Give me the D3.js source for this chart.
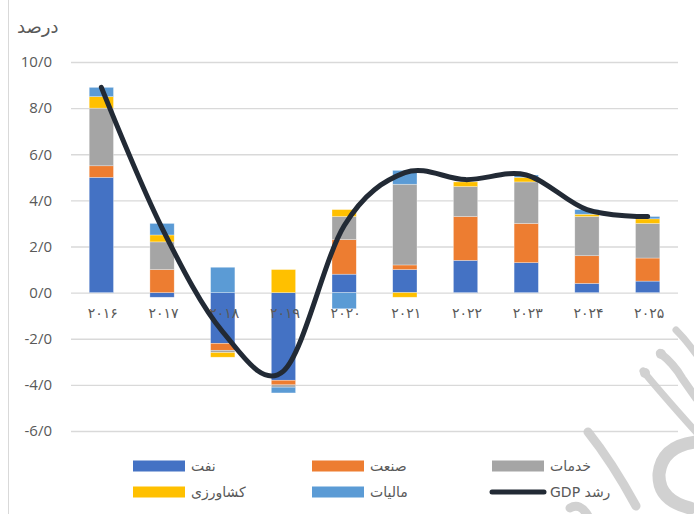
<!DOCTYPE html>
<html>
<head>
<meta charset="utf-8">
<script src="https://cdn.jsdelivr.net/npm/d3@7"></script>
<style>
  body { margin: 0; background: #fff; }
  svg { display: block; font-family: "DejaVu Sans", "Noto Sans", sans-serif; }
</style>
</head>
<body>
<svg id="chart" width="694" height="514"></svg>
<script>
// chart values (percent contribution to GDP growth)
const years = ["۲۰۱۶", "۲۰۱۷", "۲۰۱۸", "۲۰۱۹", "۲۰۲۰", "۲۰۲۱", "۲۰۲۲", "۲۰۲۳", "۲۰۲۴", "۲۰۲۵"];
const oil         = [5.0, -0.2, -2.2, -3.8, 0.8, 1.0, 1.4, 1.3, 0.4, 0.5];
const industry    = [0.5, 1.0, -0.3, -0.2, 1.5, 0.2, 1.9, 1.7, 1.2, 1.0];
const services    = [2.5, 1.2, -0.1, -0.1, 1.0, 3.5, 1.3, 1.8, 1.7, 1.5];
const agriculture = [0.5, 0.3, -0.2, 1.0, 0.3, -0.2, 0.2, 0.2, 0.1, 0.2];
const taxes       = [0.4, 0.5, 1.1, -0.25, -0.7, 0.6, 0.0, 0.1, 0.2, 0.1];
const gdp         = [8.9, 2.8, -1.7, -3.4, 2.9, 5.2, 4.9, 5.1, 3.6, 3.3];
const yTicks = [-6, -4, -2, 0, 2, 4, 6, 8, 10];

const seriesNames = ["نفت", "صنعت", "خدمات", "کشاورزی", "مالیات"];
const seriesKeys = ["oil", "industry", "services", "agriculture", "taxes"];
const colors = ["#4472c4", "#ed7d31", "#a5a5a5", "#ffc000", "#5b9bd5"];
const lineColor = "#222a35";
const textColor = "#595959";

const svg = d3.select("#chart");

// frame edge on the left
svg.append("line")
  .attr("x1", 8.5).attr("x2", 8.5).attr("y1", 0).attr("y2", 514)
  .attr("stroke", "#d9d9d9");

const x = d3.scaleBand()
  .domain(years)
  .range([71, 678])
  .paddingInner(0.6)
  .paddingOuter(0.3);

const y = d3.scaleLinear()
  .domain([-6, 10])
  .range([431, 62]);

// y axis + gridlines
const yAxis = d3.axisLeft(y)
  .tickValues(yTicks)
  .tickSizeInner(-(678 - 71))
  .tickSizeOuter(0)
  .tickPadding(19)
  .tickFormat(d => d + "/0");

const gy = svg.append("g")
  .attr("transform", "translate(71,0)")
  .call(yAxis);
gy.select(".domain").remove();
gy.selectAll(".tick line").attr("stroke", "#d9d9d9").attr("stroke-width", 1.3);
gy.selectAll(".tick text")
  .attr("fill", textColor)
  .style("font-family", "'Open Sans', 'Noto Sans', sans-serif")
  .style("font-size", "15px");

// axis title
svg.append("text")
  .attr("x", 17).attr("y", 33)
  .attr("fill", textColor)
  .style("font-size", "18px")
  .text("درصد");

// stacked bars
const rows = years.map((yr, i) => ({
  year: yr,
  oil: oil[i],
  industry: industry[i],
  services: services[i],
  agriculture: agriculture[i],
  taxes: taxes[i]
}));

const stacked = d3.stack()
  .keys(seriesKeys)
  .offset(d3.stackOffsetDiverging)(rows);

svg.append("g")
  .selectAll("g")
  .data(stacked)
  .join("g")
    .attr("fill", (d, i) => colors[i])
  .selectAll("rect")
  .data(d => d)
  .join("rect")
    .attr("x", d => x(d.data.year))
    .attr("width", x.bandwidth())
    .attr("y", d => y(Math.max(d[0], d[1])))
    .attr("height", d => Math.abs(y(d[0]) - y(d[1])))
    .attr("stroke", "#fff")
    .attr("stroke-opacity", 0.5)
    .attr("stroke-width", 0.6);

// category labels under the zero line
svg.append("g")
  .selectAll("text")
  .data(years)
  .join("text")
    .attr("x", d => x(d) + x.bandwidth() / 2 + 1.5)
    .attr("y", 318)
    .attr("text-anchor", "middle")
    .attr("fill", textColor)
    .style("font-size", "14px")
    .style("letter-spacing", "3px")
    .text(d => d);

// GDP growth line (smoothed like excel)
const line = d3.line()
  .x((d, i) => x(years[i]) + x.bandwidth() / 2)
  .y(d => y(d))
  .curve(d3.curveCardinal.tension(0));

svg.append("path")
  .datum(gdp)
  .attr("d", line)
  .attr("fill", "none")
  .attr("stroke", lineColor)
  .attr("stroke-width", 5)
  .attr("stroke-linecap", "round")
  .attr("stroke-linejoin", "round");

// legend
const legendItems = [
  { name: seriesNames[0], color: colors[0], x: 133, y: 466 },
  { name: seriesNames[1], color: colors[1], x: 312, y: 466 },
  { name: seriesNames[2], color: colors[2], x: 492, y: 466 },
  { name: seriesNames[3], color: colors[3], x: 133, y: 492 },
  { name: seriesNames[4], color: colors[4], x: 312, y: 492 },
  { name: "رشد GDP", color: lineColor, x: 492, y: 492, isLine: true }
];

const lg = svg.append("g").selectAll("g")
  .data(legendItems)
  .join("g")
    .attr("transform", d => `translate(${d.x},${d.y})`);

lg.filter(d => !d.isLine).append("rect")
  .attr("x", 0).attr("y", -5.5)
  .attr("width", 52).attr("height", 11)
  .attr("fill", d => d.color);

lg.filter(d => d.isLine).append("line")
  .attr("x1", 0).attr("x2", 52).attr("y1", 0).attr("y2", 0)
  .attr("stroke", d => d.color)
  .attr("stroke-width", 5)
  .attr("stroke-linecap", "round");

lg.append("text")
  .attr("x", 58).attr("y", 5)
  .attr("direction", "rtl")
  .attr("text-anchor", "end")
  .attr("fill", textColor)
  .style("font-size", "14px")
  .text(d => d.name);

// faint watermark strokes in the corner
const wm = svg.append("g")
  .attr("fill", "none")
  .attr("stroke", "#cdcdcd")
  .attr("stroke-linecap", "round")
  .attr("opacity", 0.9);
wm.append("path").attr("d", "M676,330 Q686,340 696,354").attr("stroke-width", 7);
wm.append("path").attr("d", "M660,353 Q674,364 682,378 L696,398").attr("stroke-width", 8);
wm.append("path").attr("d", "M643,371 Q662,394 696,432").attr("stroke-width", 7);
wm.append("path").attr("d", "M588,432 Q612,462 636,506").attr("stroke-width", 9);
wm.append("path").attr("d", "M696,442 Q662,446 659,474 Q658,500 690,508").attr("stroke-width", 13);
wm.append("path").attr("d", "M570,508 Q580,502 588,516").attr("stroke-width", 9);
wm.append("circle").attr("cx", 661).attr("cy", 354).attr("r", 5).attr("fill", "#cdcdcd").attr("stroke", "none");
wm.append("circle").attr("cx", 645).attr("cy", 373).attr("r", 5).attr("fill", "#cdcdcd").attr("stroke", "none");
</script>
</body>
</html>
